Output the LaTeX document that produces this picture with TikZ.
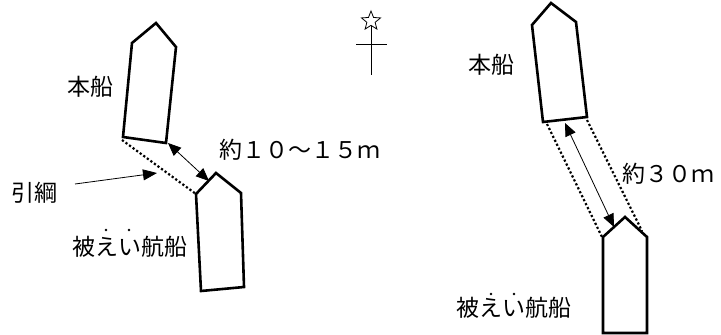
\documentclass[tikz,border=0pt]{standalone}
\usepackage{fontspec}
\newfontfamily\jp{Noto Sans CJK JP}
\usetikzlibrary{arrows.meta,shapes.geometric}
\tikzset{
  ship/.style={line width=2.6pt, line join=miter},
  rope/.style={line width=2.2pt, dash pattern=on 2.2pt off 2.2pt},
  dist/.style={line width=0.8pt, {Triangle[length=13pt,width=11pt]}-{Triangle[length=13pt,width=11pt]}},
  pointer/.style={line width=0.8pt, -{Triangle[length=14pt,width=11pt]}},
  lbl/.style={font=\jp\fontsize{23}{27}\selectfont, inner sep=0pt},
  emdot/.style={fill=black},
  compass/.style={line width=0.9pt}
}
\begin{document}
\begin{tikzpicture}[x=1pt,y=-1pt]
\useasboundingbox (0,0) rectangle (721,335);
% left main ship
\coordinate (a1) at (156,23);
\coordinate (a2) at (176,47);
\coordinate (a3) at (166,143);
\coordinate (a4) at (123,137);
\coordinate (a5) at (132,43);
\draw[ship] (a1)--(a2)--(a3)--(a4)--(a5)--cycle;
% left towed ship
\coordinate (b1) at (216,173);
\coordinate (b2) at (241,193);
\coordinate (b3) at (244,287);
\coordinate (b4) at (201,291);
\coordinate (b5) at (196,194);
\draw[ship] (b1)--(b2)--(b3)--(b4)--(b5)--cycle;
% right main ship
\coordinate (c1) at (551,3);
\coordinate (c2) at (576,22);
\coordinate (c3) at (587,117);
\coordinate (c4) at (543,122);
\coordinate (c5) at (532,25);
\draw[ship] (c1)--(c2)--(c3)--(c4)--(c5)--cycle;
% right towed ship
\coordinate (d1) at (625,217);
\coordinate (d2) at (647,237);
\coordinate (d3) at (647,333);
\coordinate (d4) at (603,333);
\coordinate (d5) at (603,237);
\draw[ship] (d1)--(d2)--(d3)--(d4)--(d5)--cycle;
% ropes
\coordinate (r0s) at (122,140);
\draw[rope] (r0s) -- (b5);
\coordinate (r1s) at (547,124);
\coordinate (r1e) at (602,237);
\coordinate (r2s) at (587,120);
\coordinate (r2e) at (642,231);
\draw[rope] (r1s) -- (r1e);
\draw[rope] (r2s) -- (r2e);
% distance arrows
\coordinate (la) at (168,143);
\coordinate (lb) at (209,181);
\draw[dist] (la) -- (lb);
\coordinate (ra) at (565,123);
\coordinate (rb) at (614,227);
\draw[dist] (ra) -- (rb);
% labels
\node[lbl] (mainL) at (90,87) {本船};
\node[lbl] (mainR) at (491,65) {本船};
\node[lbl] (distL) at (300,150) {約１０～１５ｍ};
\node[lbl] (distR) at (668,174) {約３０ｍ};
\node[lbl] (rope) at (35,193) {引綱};
\node[lbl] (towL) at (130,247) {被えい航船};
\node[lbl] (towR) at (514,308) {被えい航船};
\fill[emdot] (106,230) circle (1.4pt);
\fill[emdot] (129,230) circle (1.4pt);
\fill[emdot] (491,294) circle (1.4pt);
\fill[emdot] (514,294) circle (1.4pt);
% pointer
\coordinate (ptip) at (157,173);
\draw[pointer] (75,184) -- (ptip);
% compass
\node[star, star points=5, star point ratio=2.3, draw, line width=0.8pt, minimum size=20pt, inner sep=0pt] (star) at (371,21) {};
\coordinate (ns) at (371,75);
\coordinate (cw) at (356,44);
\coordinate (ce) at (387,44);
\draw[compass] (star.south) -- (ns);
\draw[compass] (cw) -- (ce);
\end{tikzpicture}
\end{document}
